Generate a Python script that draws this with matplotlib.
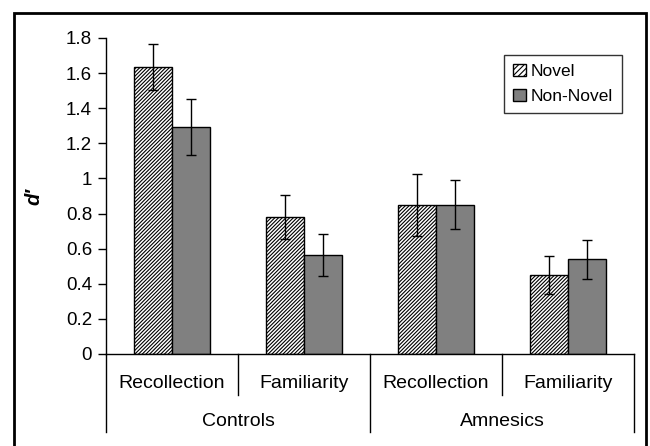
import numpy as np
import matplotlib
matplotlib.use('Agg')
import matplotlib.pyplot as plt
import matplotlib as mpl
from matplotlib.patches import Rectangle, Patch
from matplotlib import transforms

groups = ['Controls', 'Amnesics']
subcats = ['Recollection', 'Familiarity', 'Recollection', 'Familiarity']
series = ['Novel', 'Non-Novel']

novel_mean = [1.635, 0.78, 0.85, 0.45]
novel_err = [0.13, 0.125, 0.177, 0.11]
nonnovel_mean = [1.295, 0.565, 0.85, 0.54]
nonnovel_err = [0.16, 0.12, 0.14, 0.11]

yticks = [0, 0.2, 0.4, 0.6, 0.8, 1, 1.2, 1.4, 1.6, 1.8]
ytick_labels = ['0', '0.2', '0.4', '0.6', '0.8', '1', '1.2', '1.4', '1.6', '1.8']

font_size = 13.5
mpl.rc('font', family='Liberation Sans')
mpl.rcParams['hatch.linewidth'] = 0.8

fig = plt.figure(figsize=(6.5, 4.46), dpi=100)
ax = fig.add_axes([106 / 650, (446 - 354) / 446, (634 - 106) / 650, 316 / 446])

x = np.arange(len(subcats))
width = 0.285
HATCH = '/////////'

ax.bar(x - width / 2, novel_mean, width, color='white', edgecolor='black',
       hatch=HATCH, lw=1.0, label=series[0])
ax.bar(x + width / 2, nonnovel_mean, width, color='#808080',
       edgecolor='black', lw=1.0, label=series[1])
ax.errorbar(x - width / 2, novel_mean, yerr=novel_err, fmt='none',
            ecolor='black', elinewidth=1.0, capsize=3.6, capthick=1.0)
ax.errorbar(x + width / 2, nonnovel_mean, yerr=nonnovel_err, fmt='none',
            ecolor='black', elinewidth=1.0, capsize=3.6, capthick=1.0)

ax.set_xlim(-0.5, len(subcats) - 0.5)
ax.set_ylim(0, 1.8)
ax.set_yticks(yticks)
ax.set_yticklabels(ytick_labels, fontsize=font_size)
ax.tick_params(axis='y', direction='out', length=6, width=1, pad=4)
ax.set_xticks([])
for side in ('top', 'right'):
    ax.spines[side].set_visible(False)
ax.spines['left'].set_linewidth(1)
ax.spines['bottom'].set_linewidth(1)

ax.set_ylabel("d\u2032", fontsize=font_size + 1, fontweight='bold',
              fontstyle='italic', labelpad=16)

# multi level category axis
trans = transforms.blended_transform_factory(ax.transData, ax.transAxes)
short = -41 / 316
long_ = -78 / 316
for i in range(len(subcats) + 1):
    xpos = i - 0.5
    y_end = long_ if i % 2 == 0 else short
    ax.plot([xpos, xpos], [0, y_end], color='black', lw=1,
            transform=trans, clip_on=False)
for i, lab in enumerate(subcats):
    ax.text(i, -29 / 316, lab, transform=trans, ha='center', va='center',
            fontsize=font_size + 0.5)
for j, g in enumerate(groups):
    ax.text(2 * j + 0.5, -68 / 316, g, transform=trans, ha='center',
            va='center', fontsize=font_size + 0.5)

handles = [Patch(facecolor='white', edgecolor='black', hatch='//////'),
           Patch(facecolor='#808080', edgecolor='black')]
leg = ax.legend(handles, series, loc='upper right',
                bbox_to_anchor=((622 - 106) / 528, (354 - 55) / 316),
                fontsize=12.5, frameon=True, fancybox=False,
                handlelength=0.75, handleheight=0.75, handletextpad=0.3,
                borderpad=0.5, labelspacing=0.55, borderaxespad=0)
leg.get_frame().set_edgecolor('black')
leg.get_frame().set_linewidth(1)

# outer chart frame
fig.patches.append(Rectangle((14 / 650, -0.05), (646 - 14) / 650,
                             (446 - 13) / 446 + 0.05,
                             transform=fig.transFigure, fill=False,
                             edgecolor='black', lw=2))

fig.savefig('out.png', dpi=100)
